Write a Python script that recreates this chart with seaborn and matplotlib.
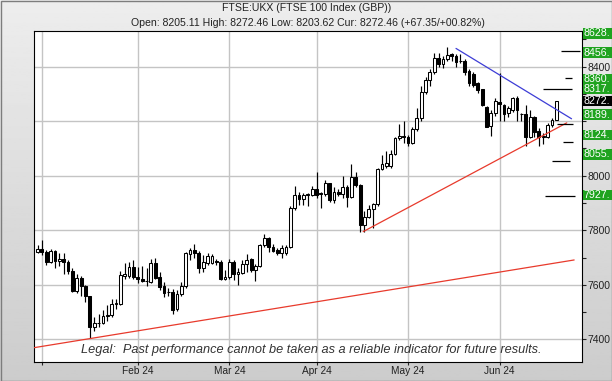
import numpy as np
import pandas as pd
import matplotlib
matplotlib.use("Agg")
import matplotlib.pyplot as plt
from matplotlib.patches import Rectangle
import seaborn as sns

# ---------------- data ----------------
dates = ["2023-12-29",
 "2024-01-02","2024-01-03","2024-01-04","2024-01-05","2024-01-08","2024-01-09","2024-01-10","2024-01-11","2024-01-12",
 "2024-01-15","2024-01-16","2024-01-17","2024-01-18","2024-01-19","2024-01-22","2024-01-23","2024-01-24","2024-01-25",
 "2024-01-26","2024-01-29","2024-01-30","2024-01-31",
 "2024-02-01","2024-02-02","2024-02-05","2024-02-06","2024-02-07","2024-02-08","2024-02-09","2024-02-12","2024-02-13",
 "2024-02-14","2024-02-15","2024-02-16","2024-02-19","2024-02-20","2024-02-21","2024-02-22","2024-02-23","2024-02-26",
 "2024-02-27","2024-02-28","2024-02-29",
 "2024-03-01","2024-03-04","2024-03-05","2024-03-06","2024-03-07","2024-03-08","2024-03-11","2024-03-12","2024-03-13",
 "2024-03-14","2024-03-15","2024-03-18","2024-03-19","2024-03-20","2024-03-21","2024-03-22","2024-03-25","2024-03-26",
 "2024-03-27","2024-03-28",
 "2024-04-02","2024-04-03","2024-04-04","2024-04-05","2024-04-08","2024-04-09","2024-04-10","2024-04-11","2024-04-12",
 "2024-04-15","2024-04-16","2024-04-17","2024-04-18","2024-04-19","2024-04-22","2024-04-23","2024-04-24","2024-04-25",
 "2024-04-26","2024-04-29","2024-04-30",
 "2024-05-01","2024-05-02","2024-05-03","2024-05-07","2024-05-08","2024-05-09","2024-05-10","2024-05-13","2024-05-14",
 "2024-05-15","2024-05-16","2024-05-17","2024-05-20","2024-05-21","2024-05-22","2024-05-23","2024-05-24","2024-05-28",
 "2024-05-29","2024-05-30","2024-05-31",
 "2024-06-03","2024-06-04","2024-06-05","2024-06-06","2024-06-07","2024-06-10","2024-06-11","2024-06-12","2024-06-13",
 "2024-06-14","2024-06-17","2024-06-18","2024-06-19","2024-06-20"]

opens = [7722,
 7733,7722,7682,7723,7689,7694,7683,7651,7576,7624,7594,7558,7446,7459,7461,7487,7490,7528,7530,7633,7632,7664,
 7627,7622,7615,7611,7679,7627,7595,7573,7575,7510,7565,7595,7713,7728,7718,7660,7681,7681,7686,7685,7622,
 7627,7684,7639,7644,7678,7693,7656,7669,7745,7770,7739,7727,7717,7717,7737,7880,7929,7915,7930,7931,
 7950,7935,7933,7972,7911,7942,7933,7960,7923,7997,7966,7819,7848,7877,7896,8024,8036,8036,8079,8137,8144,
 8143,8119,8172,8211,8308,8351,8382,8431,8410,8427,8447,8439,8420,8422,8385,8373,8339,8317,8253,8183,8229,
 8272,8260,8229,8241,8284,8228,8226,8143,8214,8165,8141,8143,8186,8205.11]
highs = [7746,
 7764,7727,7731,7728,7718,7716,7692,7660,7640,7632,7600,7560,7483,7492,7508,7525,7548,7548,7652,7679,7684,7691,
 7666,7670,7660,7693,7697,7648,7611,7588,7585,7581,7611,7721,7735,7750,7725,7710,7715,7712,7695,7690,7656,
 7695,7690,7660,7690,7712,7697,7675,7750,7786,7775,7750,7735,7745,7745,7890,7963,7941,7938,7935,7962,
 8015,7942,7985,7975,7960,7950,7999,7965,8043,8012,7970,7870,7893,7900,8030,8076,8090,8095,8143,8189,8202,
 8150,8180,8247,8330,8361,8390,8449,8449,8440,8474,8452,8445,8445,8430,8390,8380,8345,8320,8256,8240,8285,
 8376,8262,8255,8288,8292,8230,8260,8240,8218,8175,8155,8192,8210,8272.46]
lows = [7715,
 7709,7672,7680,7660,7668,7640,7638,7572,7570,7560,7538,7404,7430,7445,7455,7468,7482,7510,7525,7620,7625,7620,
 7605,7610,7597,7605,7620,7581,7554,7557,7492,7505,7560,7590,7691,7700,7642,7648,7673,7675,7672,7618,7618,
 7620,7617,7599,7640,7648,7648,7613,7665,7740,7721,7720,7709,7697,7710,7735,7875,7892,7892,7889,7925,
 7920,7880,7925,7905,7900,7925,7920,7887,7920,7960,7793,7795,7845,7807,7890,8020,8030,8027,8075,8130,8120,
 8110,8115,8165,8200,8300,8330,8375,8400,8395,8420,8420,8400,8415,8370,8330,8325,8305,8255,8178,8146,8220,
 8201,8200,8215,8235,8200,8200,8109,8140,8143,8109,8115,8140,8180,8203.62]
closes = [7733,
 7722,7682,7723,7689,7694,7683,7651,7576,7624,7594,7558,7446,7459,7461,7487,7490,7528,7534,7636,7638,7664,7627,
 7620,7615,7613,7679,7624,7593,7571,7572,7507,7565,7595,7715,7728,7718,7660,7685,7706,7704,7684,7621,7627,
 7685,7639,7646,7678,7690,7656,7669,7745,7770,7739,7725,7717,7736,7737,7880,7929,7914,7931,7931,7950,
 7929,7932,7972,7911,7942,7933,7960,7923,7997,7966,7819,7848,7877,7896,8024,8042,8046,8079,8137,8146,8141,
 8119,8172,8211,8308,8351,8382,8431,8410,8427,8443,8439,8418,8422,8380,8340,8333,8315,8260,8180,8231,8274,
 8262,8226,8247,8284,8241,8226,8143,8214,8162,8143,8146,8186,8205,8272.46]

month_starts = ["2024-01-02", "2024-02-01", "2024-03-01", "2024-04-02", "2024-05-01", "2024-06-03"]
month_labels = ["", "Feb 24", "Mar 24", "Apr 24", "May 24", "Jun 24"]

target_levels = [8628, 8456, 8360, 8317, 8189, 8124, 8055, 7927]
current_level = 8272.46

blue_trend_x = [96.0, 122.5]
blue_trend_y = [8467, 8209]
red_short_x = [74.7, 121.4]
red_short_y = [7795, 8194]
red_long_x = [-0.9, 123.1]
red_long_y = [7369, 7691]

title = "FTSE:UKX (FTSE 100 Index (GBP))"
subtitle = "Open: 8205.11 High: 8272.46 Low: 8203.62 Cur: 8272.46 (+67.35/+00.82%)"
legal = "Legal:  Past performance cannot be taken as a reliable indicator for future results."

# ---------------- layout constants ----------------
W, H = 612, 381
AX_L, AX_R, AX_T, AX_B = 33.6, 582.0, 30.5, 362.0
YMIN, YMAX = 7316.7, 8532.8
XMIN, XMAX = -0.9, 124.9
target_span_px = [(0, 0), (561, 580), (565, 572), (543, 572), (557, 573), (563, 573), (552, 570), (545, 575)]
tag_y_px = [33.3, 52.5, 78.7, 89.0, 114.7, 135.0, 154.3, 195.0]
cur_tag_y_px = 101.0

sns.set_theme(style="white")
plt.rcParams['font.family'] = ['Liberation Sans', 'DejaVu Sans']

df = pd.DataFrame({"date": pd.to_datetime(dates), "open": opens, "high": highs,
                   "low": lows, "close": closes})
df["i"] = np.arange(len(df))
date_to_i = {d: i for i, d in zip(df["i"], df["date"])}

fig = plt.figure(figsize=(W / 100, H / 100), dpi=100)

bg = fig.add_axes([0, 0, 1, 1])
bg.axis("off")
grad = np.linspace(0.93, 0.80, 256)[:, None]
bg.imshow(grad, cmap="gray", vmin=0, vmax=1, aspect="auto", extent=[0, 1, 0, 1])
bg.set_xlim(0, 1); bg.set_ylim(0, 1)
bg.add_patch(Rectangle((0.5 / W, 0.5 / H), 1 - 1 / W, 1 - 1 / H, fill=False,
                       edgecolor="#7d7d7d", lw=1.0))

ax = fig.add_axes([AX_L / W, 1 - AX_B / H, (AX_R - AX_L) / W, (AX_B - AX_T) / H])
ax.set_facecolor("white")
ax.set_xlim(XMIN, XMAX)
ax.set_ylim(YMIN, YMAX)

ms_idx = [date_to_i[pd.Timestamp(d)] for d in month_starts]
for xi in ms_idx:
    ax.axvline(xi, color="#c4c4c4", lw=1.0, zorder=0)
for yv in range(7400, 8600, 200):
    ax.axhline(yv, color="#c4c4c4", lw=1.0, zorder=0)

up = df["close"] >= df["open"]
ax.vlines(df["i"], df["low"], df["high"], color="black", lw=0.85, zorder=3)
bottom = np.minimum(df["open"], df["close"])
height = np.maximum((df["close"] - df["open"]).abs(), 2.0)
ax.bar(df["i"], height, bottom=bottom, width=0.64,
       color=np.where(up, "white", "black"), edgecolor="black", linewidth=0.75, zorder=4)

sns.lineplot(x=blue_trend_x, y=blue_trend_y, ax=ax, color="#3d3dd6", lw=0.9, zorder=5)
sns.lineplot(x=red_short_x, y=red_short_y, ax=ax, color="#e83a2c", lw=0.9, zorder=5)
sns.lineplot(x=red_long_x, y=red_long_y, ax=ax, color="#e83a2c", lw=0.9, zorder=5)

def px_to_i(px):
    return XMIN + (px - AX_L) / (AX_R - AX_L) * (XMAX - XMIN)

for lvl, (x0, x1) in zip(target_levels, target_span_px):
    if x1 > x0:
        ax.hlines(lvl, px_to_i(x0), px_to_i(x1), color="black", lw=0.9, zorder=5)

for s in ax.spines.values():
    s.set_color("black"); s.set_linewidth(0.8)
ax.yaxis.tick_right()
ax.set_yticks([7400, 7600, 7800, 8000, 8400])
ax.set_yticks(np.arange(7400, 8600, 100), minor=True)
ax.tick_params(axis="y", which="both", direction="out", length=3, width=0.8,
               pad=1, labelsize=7.5, labelcolor="#222222", colors="#222222", right=True)
ax.set_xticks(ms_idx)
ax.set_xticklabels(month_labels)
ax.tick_params(axis="x", direction="out", length=2.5, width=0.8, pad=0.2,
               labelsize=7.3, labelcolor="#222222", bottom=True)
ax.set_xlabel(""); ax.set_ylabel("")
if ax.get_legend():
    ax.get_legend().remove()

ax.text(0.506, 0.036, legal, transform=ax.transAxes, ha="center", va="center",
        fontsize=9.2, style="italic", color="#333333", zorder=6)

fig.text(307 / W, 1 - 8 / H, title, ha="center", va="center", fontsize=7.6, color="#222222")
fig.text(308 / W, 1 - 23.4 / H, subtitle, ha="center", va="center", fontsize=7.6, color="#222222")

def tag(yc, txt, fc):
    fig.patches.append(Rectangle((583 / W, 1 - (yc + 5.2) / H), 40 / W, 10.4 / H,
                                 transform=fig.transFigure, facecolor=fc, edgecolor="none",
                                 zorder=10))
    fig.text(583.6 / W, 1 - yc / H, txt, ha="left", va="center", fontsize=7.7,
             color="white", zorder=11)

for lvl, yc in zip(target_levels, tag_y_px):
    tag(yc, f"{lvl}.", "#1fa31f")
tag(cur_tag_y_px, f"{int(current_level)}.", "#000000")

fig.savefig("out.png", dpi=100)
